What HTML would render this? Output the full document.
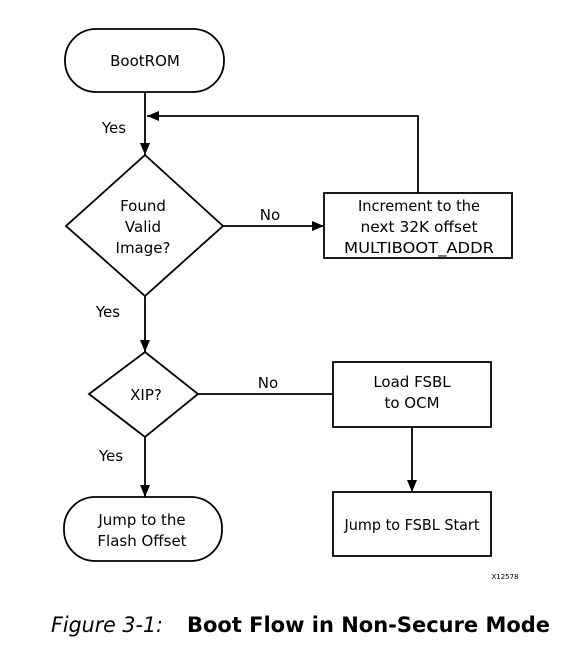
<!DOCTYPE html>
<html><head><meta charset="utf-8"><style>
html,body{margin:0;padding:0;background:#fff;}
svg{display:block;}
text{font-family:"DejaVu Sans","Liberation Sans",sans-serif;fill:#000;}
</style></head><body>
<svg width="587" height="647" viewBox="0 0 587 647" xmlns="http://www.w3.org/2000/svg">
<defs><marker id="a" markerWidth="12" markerHeight="10" refX="12" refY="5" orient="auto" markerUnits="userSpaceOnUse"><path d="M0,0 L12,5 L0,10 z" fill="#000"/></marker></defs>
<g fill="none" stroke="#000" stroke-width="1.8">
<rect x="65" y="29" width="159" height="63" rx="31" ry="31"/>
<polygon points="145,155 223,226 145,296 66,226"/>
<rect x="324" y="193" width="188" height="65"/>
<polygon points="145,352 198,394 145,437 89,394"/>
<rect x="333" y="362" width="158" height="65"/>
<rect x="333" y="492" width="158" height="64"/>
<rect x="64" y="497" width="158" height="64" rx="31" ry="31"/>
<line x1="145" y1="92" x2="145" y2="155" marker-end="url(#a)"/>
<polyline points="418,193 418,116 147,116" marker-end="url(#a)"/>
<line x1="223" y1="226" x2="324" y2="226" marker-end="url(#a)"/>
<line x1="145" y1="296" x2="145" y2="352" marker-end="url(#a)"/>
<line x1="198" y1="394" x2="333" y2="394"/>
<line x1="412" y1="427" x2="412" y2="492" marker-end="url(#a)"/>
<line x1="145" y1="437" x2="145" y2="497" marker-end="url(#a)"/>
</g>
<g font-size="15" text-anchor="middle">
<text x="145" y="66">BootROM</text>
<text x="114" y="133">Yes</text>
<text x="143" y="211">Found</text>
<text x="143" y="232">Valid</text>
<text x="143" y="253">Image?</text>
<text x="270" y="220">No</text>
<text x="419" y="211" textLength="122" lengthAdjust="spacingAndGlyphs">Increment to the</text>
<text x="419" y="232" textLength="117" lengthAdjust="spacingAndGlyphs">next 32K offset</text>
<text x="419" y="253" textLength="150" lengthAdjust="spacingAndGlyphs">MULTIBOOT_ADDR</text>
<text x="108" y="317">Yes</text>
<text x="146" y="400">XIP?</text>
<text x="268" y="388">No</text>
<text x="412" y="387">Load FSBL</text>
<text x="412" y="408">to OCM</text>
<text x="111" y="461">Yes</text>
<text x="142" y="525">Jump to the</text>
<text x="142" y="546">Flash Offset</text>
<text x="412" y="530" textLength="135" lengthAdjust="spacingAndGlyphs">Jump to FSBL  Start</text>
</g>
<text x="505" y="579" font-size="7" text-anchor="middle">X12578</text>
<text x="51" y="632" font-size="21" font-style="italic" textLength="112" lengthAdjust="spacingAndGlyphs">Figure 3-1:</text>
<text x="187" y="632" font-size="21" font-weight="bold" textLength="363" lengthAdjust="spacingAndGlyphs">Boot Flow in Non-Secure Mode</text>
</svg>
</body></html>
